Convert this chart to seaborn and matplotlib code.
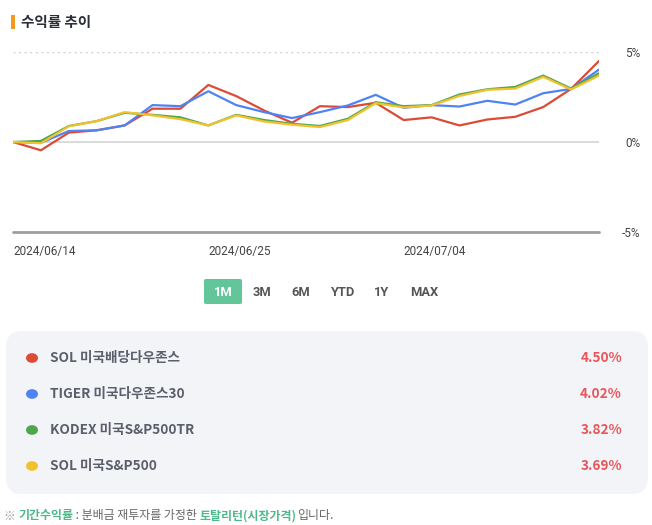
import numpy as np
import pandas as pd
import matplotlib
matplotlib.use("Agg")
import matplotlib.pyplot as plt
from matplotlib.patches import FancyBboxPatch, Rectangle
import seaborn as sns

# ---- data ----
dates = ["2024/06/14", "2024/06/17", "2024/06/18", "2024/06/19", "2024/06/20",
         "2024/06/21", "2024/06/24", "2024/06/25", "2024/06/26", "2024/06/27",
         "2024/06/28", "2024/07/01", "2024/07/02", "2024/07/03", "2024/07/04",
         "2024/07/05", "2024/07/08", "2024/07/09", "2024/07/10", "2024/07/11",
         "2024/07/12", "2024/07/15"]
tick_dates = ["2024/06/14", "2024/06/25", "2024/07/04"]

sol_dow = [0.0, -0.46, 0.52, 0.65, 0.92, 1.85, 1.85, 3.17, 2.55, 1.75, 1.07,
           1.99, 1.94, 2.18, 1.22, 1.37, 0.92, 1.25, 1.40, 1.94, 2.95, 4.50]
tiger_dow30 = [0.0, -0.05, 0.61, 0.65, 0.92, 2.05, 1.99, 2.82, 2.05, 1.66, 1.33,
               1.66, 2.03, 2.62, 1.90, 2.05, 1.97, 2.29, 2.08, 2.71, 2.95, 4.02]
kodex_sp500tr = [0.0, 0.06, 0.89, 1.16, 1.62, 1.51, 1.37, 0.92, 1.51, 1.22, 1.01,
                 0.89, 1.29, 2.21, 1.99, 2.05, 2.64, 2.93, 3.06, 3.69, 2.97, 3.82]
sol_sp500 = [0.0, -0.07, 0.87, 1.16, 1.66, 1.48, 1.27, 0.92, 1.48, 1.14, 0.96,
             0.83, 1.22, 2.16, 1.92, 2.03, 2.56, 2.90, 2.97, 3.62, 2.92, 3.69]

names = ["SOL 미국배당다우존스", "TIGER 미국다우존스30", "KODEX 미국S&P500TR", "SOL 미국S&P500"]
final_returns = ["4.50%", "4.02%", "3.82%", "3.69%"]
colors = ["#DB4B36", "#4F83F5", "#4FA64F", "#F2C12E"]
periods = ["1M", "3M", "6M", "YTD", "1Y", "MAX"]

series = [sol_dow, tiger_dow30, kodex_sp500tr, sol_sp500]
df = pd.DataFrame({
    "idx": np.tile(np.arange(len(dates)), len(names)),
    "date": dates * len(names),
    "ret": np.concatenate(series),
    "name": np.repeat(names, len(dates)),
})

sns.set_theme(style="white")
plt.rcParams["font.family"] = ["Noto Sans CJK KR", "DejaVu Sans"]

W, H = 652, 525
fig = plt.figure(figsize=(W / 100, H / 100), dpi=100)
fig.patch.set_facecolor("white")

def fx(px):
    return px / W

def fy(py):
    return 1 - py / H

# ---- title ----
fig.patches.append(Rectangle((fx(11), fy(29)), fx(4), 14 / H, transform=fig.transFigure,
                             color="#F39A1E", lw=0))
fig.text(fx(21), fy(22), "수익률 추이", fontsize=10.5, fontweight="bold",
         color="#2b2f3a", va="center", ha="left")

# ---- line chart ----
ax = fig.add_axes([fx(13), fy(232), fx(586), 180 / H])
sns.lineplot(data=df, x="idx", y="ret", hue="name", palette=colors, hue_order=names,
             linewidth=1.6, legend=False, ax=ax, zorder=3)
ax.set_xlim(0, len(dates) - 1)
ax.set_ylim(-5, 5)
ax.axhline(5, color="#d0d0d0", lw=1, ls=(0, (1.5, 2.5)), zorder=1)
ax.axhline(0, color="#d4d4d4", lw=1.2, zorder=1)
ax.axhline(-5, color="#9e9e9e", lw=2, zorder=2, clip_on=False)
for s in ax.spines.values():
    s.set_visible(False)
ax.set_xlabel("")
ax.set_ylabel("")
ax.set_xticks([dates.index(d) for d in tick_dates])
ax.set_xticklabels(tick_dates, ha="left", fontsize=8.5, color="#444444",
                   family=["Roboto", "DejaVu Sans"])
ax.tick_params(axis="x", length=0, pad=9)
ax.yaxis.tick_right()
ax.set_yticks([-5, 0, 5])
ax.set_yticklabels(["-5%", "0%", "5%"], fontsize=8.5, color="#444444",
                   family=["Roboto", "DejaVu Sans"], ha="right")
ax.tick_params(axis="y", length=0, pad=30)
ax.set_facecolor("white")

# ---- period buttons ----
fig.patches.append(FancyBboxPatch((fx(204), fy(304)), fx(38), 25 / H,
                                  boxstyle="round,pad=0,rounding_size=0.003",
                                  transform=fig.transFigure, color="#63C59A", lw=0))
btn_x = [223, 262, 301, 342, 382, 424]
for p, x in zip(periods, btn_x):
    fig.text(fx(x), fy(292), p, fontsize=9.3, fontweight="bold",
             color="white" if p == "1M" else "#555555", ha="center", va="center",
             family=["Roboto", "DejaVu Sans"])

# ---- legend panel ----
fig.patches.append(FancyBboxPatch((fx(6), fy(494)), fx(642), 163 / H,
                                  boxstyle="round,pad=0,rounding_size=0.025",
                                  transform=fig.transFigure, color="#F3F4F8", lw=0,
                                  mutation_aspect=W / H))
row_y = [358, 394, 430, 466]
for name, val, c, y in zip(names, final_returns, colors, row_y):
    fig.patches.append(plt.Circle((fx(32), fy(y)), 6 / W, transform=fig.transFigure,
                                  color=c, lw=0))
    fig.text(fx(50), fy(y), name, fontsize=9.8, fontweight="bold",
             color="#5b5f6b", ha="left", va="center")
    fig.text(fx(622), fy(y), val, fontsize=9.8, fontweight="bold",
             color="#E8555A", ha="right", va="center")

# ---- footnote ----
parts = [("※ ", "#999999", "normal"), ("기간수익률", "#4DB88A", "bold"),
         (" : 분배금 재투자를 가정한 ", "#666666", "normal"),
         ("토탈리턴(시장가격)", "#4DB88A", "bold"), ("입니다.", "#666666", "normal")]
fig.canvas.draw()
renderer = fig.canvas.get_renderer()
x = 4
for txt, c, w in parts:
    t = fig.text(fx(x), fy(516), txt, fontsize=8.6, color=c, fontweight=w,
                 ha="left", va="center")
    bb = t.get_window_extent(renderer=renderer)
    x += bb.width

fig.savefig("out.png", dpi=100, facecolor="white")
